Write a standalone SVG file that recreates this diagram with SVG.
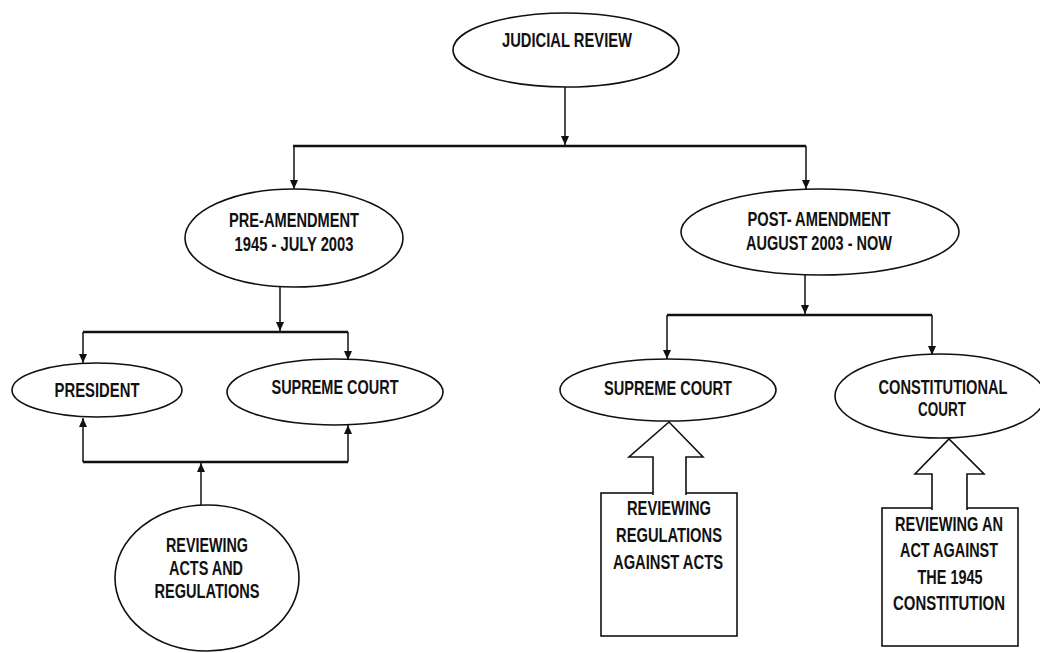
<svg xmlns="http://www.w3.org/2000/svg" width="1040" height="653" viewBox="0 0 1040 653">
<style>
.n{fill:#fff;stroke:#111;stroke-width:1.6}
.t{font-family:"Liberation Sans Narrow","Liberation Sans",Arial,sans-serif;font-weight:bold;font-size:20px;fill:#111;text-anchor:middle}
.c{fill:none;stroke:#111;stroke-width:1.5}
.b{fill:none;stroke:#111;stroke-width:2.6}
.ba{fill:#fff;stroke:#111;stroke-width:1.6}
</style>
<defs>
<marker id="ah" markerUnits="userSpaceOnUse" markerWidth="10" markerHeight="8" refX="9" refY="4" orient="auto">
<path d="M0,0 L9,4 L0,8 z" fill="#111"/>
</marker>
</defs>
<rect width="1040" height="653" fill="#fff"/>
<g id="connectors">
<path class="c" d="M565,87 V145" marker-end="url(#ah)"/>
<path class="b" d="M293,146 H806"/>
<path class="c" d="M294,146 V189" marker-end="url(#ah)"/>
<path class="c" d="M806,146 V189" marker-end="url(#ah)"/>
<path class="c" d="M280,287 V331" marker-end="url(#ah)"/>
<path class="b" d="M83,332 H348"/>
<path class="c" d="M83,332 V363" marker-end="url(#ah)"/>
<path class="c" d="M348,332 V360" marker-end="url(#ah)"/>
<path class="b" d="M83,462 H348"/>
<path class="c" d="M83,462 V418" marker-end="url(#ah)"/>
<path class="c" d="M348,462 V425" marker-end="url(#ah)"/>
<path class="c" d="M201,505 V463" marker-end="url(#ah)"/>
<path class="c" d="M805,275 V314" marker-end="url(#ah)"/>
<path class="b" d="M667,315 H932"/>
<path class="c" d="M667,315 V359" marker-end="url(#ah)"/>
<path class="c" d="M932,315 V355" marker-end="url(#ah)"/>
</g>
<g id="judicial-review">
<ellipse class="n" cx="566" cy="50" rx="113" ry="37"/>
<text class="t" x="567" y="47" textLength="130" lengthAdjust="spacingAndGlyphs">JUDICIAL REVIEW</text>
</g>
<g id="pre-amendment">
<ellipse class="n" cx="294" cy="238" rx="109" ry="49"/>
<text class="t" x="294" y="227" textLength="130" lengthAdjust="spacingAndGlyphs">PRE-AMENDMENT</text>
<text class="t" x="294" y="251" textLength="119" lengthAdjust="spacingAndGlyphs">1945 - JULY 2003</text>
</g>
<g id="post-amendment">
<ellipse class="n" cx="820" cy="232" rx="139" ry="43"/>
<text class="t" x="819" y="226" textLength="143" lengthAdjust="spacingAndGlyphs">POST- AMENDMENT</text>
<text class="t" x="819" y="250" textLength="146" lengthAdjust="spacingAndGlyphs">AUGUST 2003 - NOW</text>
</g>
<g id="president">
<ellipse class="n" cx="97" cy="390" rx="85" ry="27"/>
<text class="t" x="97" y="397" textLength="85" lengthAdjust="spacingAndGlyphs">PRESIDENT</text>
</g>
<g id="supreme-court-pre">
<ellipse class="n" cx="335" cy="392" rx="108" ry="33"/>
<text class="t" x="335" y="394" textLength="127" lengthAdjust="spacingAndGlyphs">SUPREME COURT</text>
</g>
<g id="reviewing-acts-regulations">
<ellipse class="n" cx="207" cy="578" rx="92" ry="73"/>
<text class="t" x="207" y="552" textLength="82" lengthAdjust="spacingAndGlyphs">REVIEWING</text>
<text class="t" x="206" y="575" textLength="74" lengthAdjust="spacingAndGlyphs">ACTS AND</text>
<text class="t" x="207" y="598" textLength="105" lengthAdjust="spacingAndGlyphs">REGULATIONS</text>
</g>
<g id="supreme-court-post">
<ellipse class="n" cx="668" cy="390" rx="108" ry="31"/>
<text class="t" x="668" y="395" textLength="128" lengthAdjust="spacingAndGlyphs">SUPREME COURT</text>
</g>
<g id="constitutional-court">
<ellipse class="n" cx="940" cy="396" rx="105" ry="42"/>
<text class="t" x="943" y="394" textLength="129" lengthAdjust="spacingAndGlyphs">CONSTITUTIONAL</text>
<text class="t" x="942" y="416" textLength="48" lengthAdjust="spacingAndGlyphs">COURT</text>
</g>
<g id="reviewing-regulations-against-acts">
<rect class="n" x="601" y="493" width="136" height="143"/>
<text class="t" x="669" y="515" textLength="84" lengthAdjust="spacingAndGlyphs">REVIEWING</text>
<text class="t" x="669" y="542" textLength="106" lengthAdjust="spacingAndGlyphs">REGULATIONS</text>
<text class="t" x="668" y="569" textLength="110" lengthAdjust="spacingAndGlyphs">AGAINST ACTS</text>
</g>
<g id="reviewing-act-against-constitution">
<rect class="n" x="882" y="508" width="136" height="138"/>
<text class="t" x="949" y="531" textLength="108" lengthAdjust="spacingAndGlyphs">REVIEWING AN</text>
<text class="t" x="949" y="557" textLength="98" lengthAdjust="spacingAndGlyphs">ACT AGAINST</text>
<text class="t" x="950" y="584" textLength="65" lengthAdjust="spacingAndGlyphs">THE 1945</text>
<text class="t" x="949" y="610" textLength="112" lengthAdjust="spacingAndGlyphs">CONSTITUTION</text>
</g>
<g id="block-arrows">
<path class="ba" d="M653,495 V457 H629 L669,422 L703,457 H686 V495"/>
<path class="ba" d="M932,510 V474 H915 L949,439 L984,474 H967 V510"/>
</g>
</svg>
